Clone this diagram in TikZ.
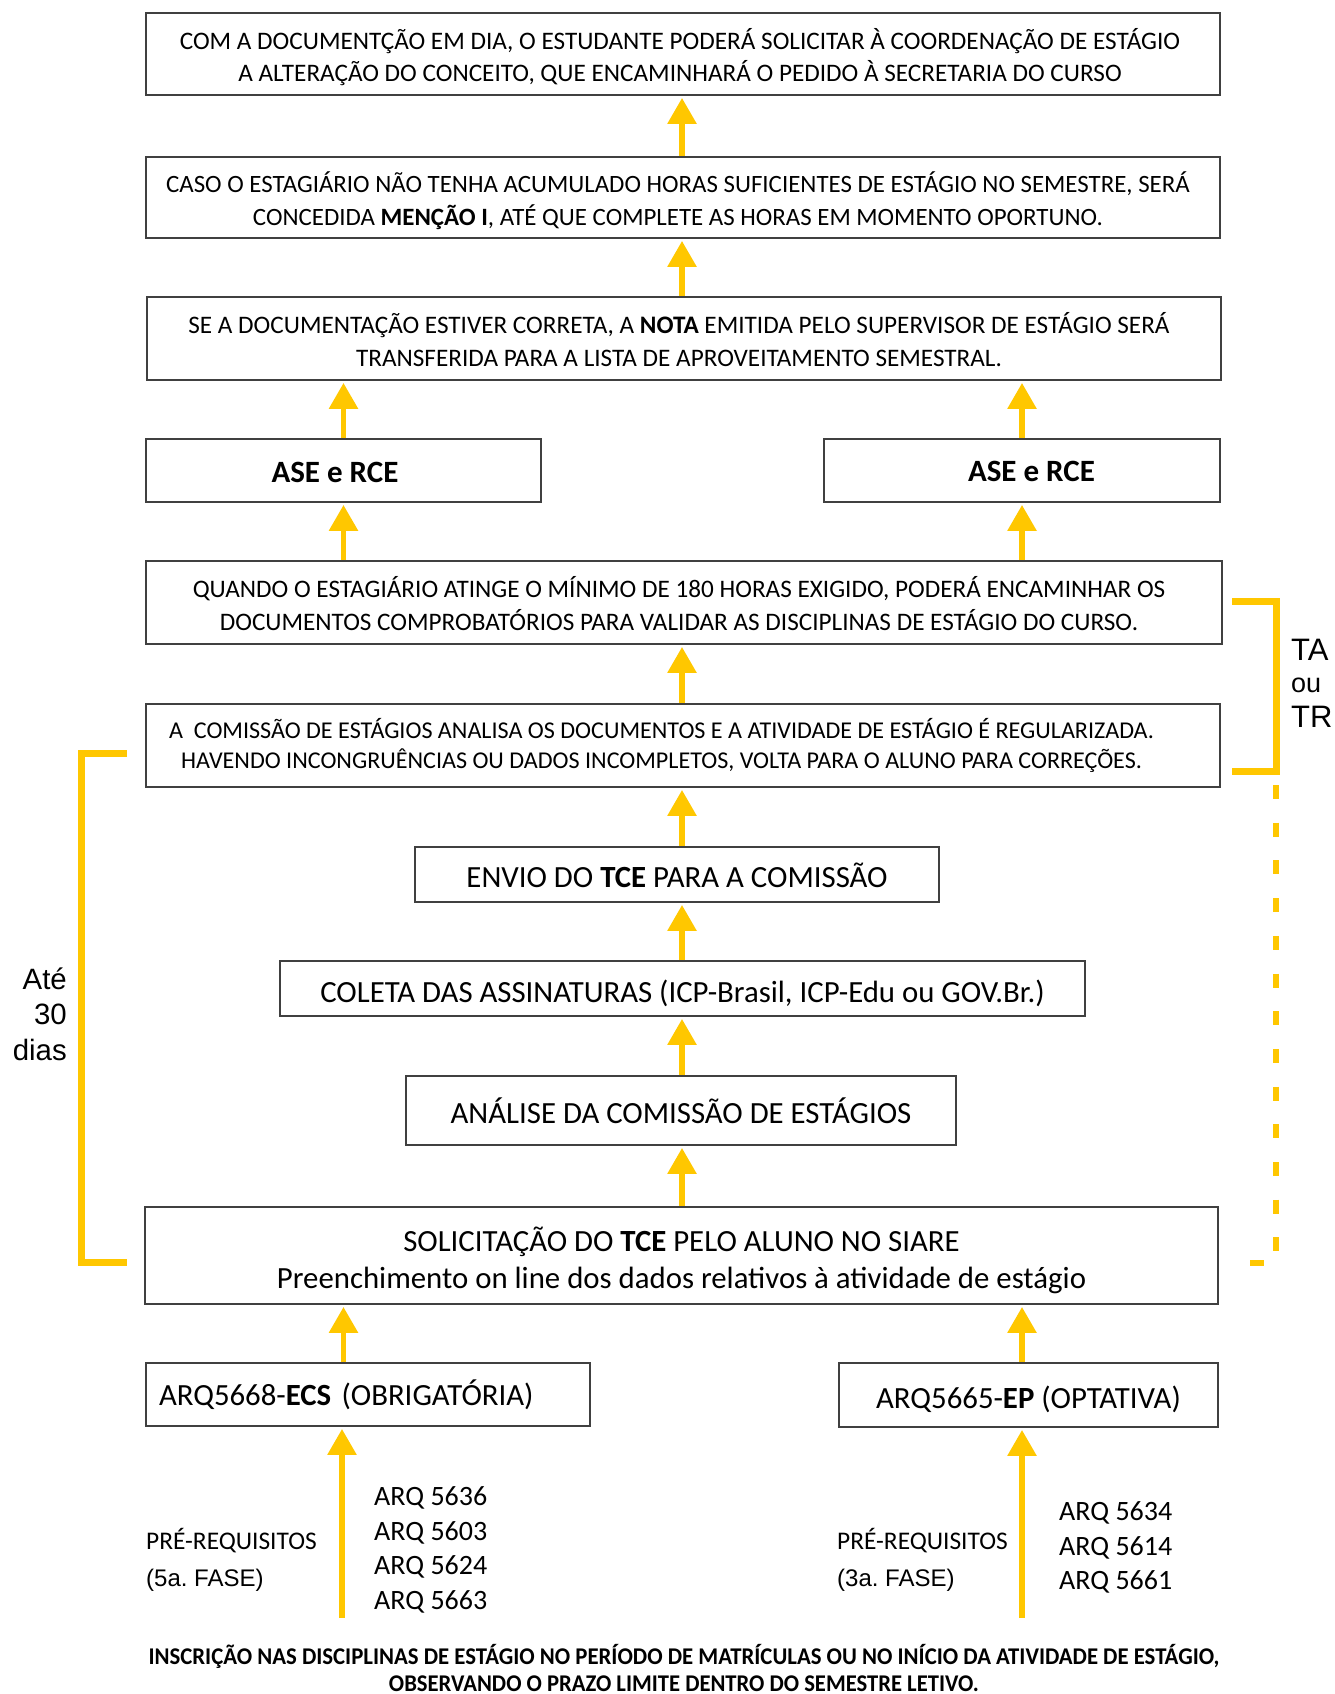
\documentclass[tikz,border=0pt]{standalone}
\usepackage{fontspec}
\setmainfont{Carlito}
\newfontfamily\arial{Liberation Sans}
\usetikzlibrary{arrows.meta}
\definecolor{amarelo}{RGB}{255,199,0}

\begin{document}
\begin{tikzpicture}[x=1pt,y=-1pt,
    caixa/.style={draw=black!75, line width=1.8pt, align=center, inner sep=0pt},
    seta/.style={draw=amarelo, line width=5.7pt, -{Triangle[length=26pt,width=28pt]}, shorten >=2pt},
    chave/.style={draw=amarelo, line width=7pt},
    txtp/.style={font=\fontsize{25.2}{32.4}\selectfont, text height=55pt, text depth=0pt},
    txtm/.style={font=\fontsize{30.8}{37}\selectfont, text height=26.5pt, text depth=0pt},
    solto/.style={inner sep=0pt}]
    % Define the page area
    \useasboundingbox (0,0) rectangle (1334,1694);
    \coordinate (eixo) at (682,0);

    % Boxes of the flow, from top to bottom
    \node[caixa, txtp, minimum width=1074pt, minimum height=82pt] (doc) at (683,54)
        {COM A DOCUMENTÇÃO EM DIA, O ESTUDANTE PODERÁ SOLICITAR À COORDENAÇÃO DE ESTÁGIO\hspace*{6pt}\\
         A ALTERAÇÃO DO CONCEITO, QUE ENCAMINHARÁ O PEDIDO À SECRETARIA DO CURSO\hspace*{6pt}};
    \node[caixa, txtp, font=\fontsize{24.9}{32.4}\selectfont, minimum width=1074pt, minimum height=81pt] (caso) at (683,197.5)
        {CASO O ESTAGIÁRIO NÃO TENHA ACUMULADO HORAS SUFICIENTES DE ESTÁGIO NO SEMESTRE, SERÁ\hspace*{10pt}\\
         CONCEDIDA \textbf{MENÇÃO I}, ATÉ QUE COMPLETE AS HORAS EM MOMENTO OPORTUNO.\hspace*{10pt}};
    \node[caixa, txtp, minimum width=1074pt, minimum height=83pt] (nota) at (684,338.5)
        {SE A DOCUMENTAÇÃO ESTIVER CORRETA, A \textbf{NOTA} EMITIDA PELO SUPERVISOR DE ESTÁGIO SERÁ\hspace*{10pt}\\
         TRANSFERIDA PARA A LISTA DE APROVEITAMENTO SEMESTRAL.\hspace*{10pt}};
    \node[caixa, font=\bfseries\fontsize{31}{37}\selectfont, text height=23pt, text depth=0pt,
        minimum width=395pt, minimum height=63pt] (aseL) at (343.5,470.5) {ASE e RCE\hspace*{17pt}};
    \node[caixa, font=\bfseries\fontsize{31}{37}\selectfont, text height=21pt, text depth=0pt,
        minimum width=396pt, minimum height=63pt] (aseR) at (1022,470.5) {\hspace*{19pt}ASE e RCE};
    \node[caixa, font=\fontsize{25.2}{33.5}\selectfont, text height=56.2pt, text depth=0pt,
        minimum width=1076pt, minimum height=83pt] (quando) at (684,602.5)
        {QUANDO O ESTAGIÁRIO ATINGE O MÍNIMO DE 180 HORAS EXIGIDO, PODERÁ ENCAMINHAR OS\hspace*{10pt}\\
         DOCUMENTOS COMPROBATÓRIOS PARA VALIDAR AS DISCIPLINAS DE ESTÁGIO DO CURSO.\hspace*{10pt}};
    \node[caixa, font=\fontsize{24.1}{30}\selectfont, text height=45.5pt, text depth=0pt,
        minimum width=1074pt, minimum height=83pt] (comissao) at (683,745.5)
        {A\ \ COMISSÃO DE ESTÁGIOS ANALISA OS DOCUMENTOS E A ATIVIDADE DE ESTÁGIO É REGULARIZADA.\hspace*{43pt}\\
         HAVENDO INCONGRUÊNCIAS OU DADOS INCOMPLETOS, VOLTA PARA O ALUNO PARA CORREÇÕES.\hspace*{43pt}};
    \node[caixa, txtm, minimum width=524pt, minimum height=55pt] (envio) at (677,874.5) {ENVIO DO \textbf{TCE} PARA A COMISSÃO};
    \node[caixa, txtm, text height=28.5pt, minimum width=805pt, minimum height=55pt] (coleta) at (682.5,988.5) {COLETA DAS ASSINATURAS (ICP-Brasil, ICP-Edu ou GOV.Br.)};
    \node[caixa, txtm, minimum width=550pt, minimum height=69pt] (analise) at (681,1110.5) {ANÁLISE DA COMISSÃO DE ESTÁGIOS};
    \node[caixa, txtm, text height=65.4pt, minimum width=1073pt, minimum height=97pt] (solic) at (681.5,1255.5)
        {SOLICITAÇÃO DO \textbf{TCE} PELO ALUNO NO SIARE\\
         Preenchimento on line dos dados relativos à atividade de estágio};
    \node[caixa, txtm, text height=22pt, align=left, text width=418pt, inner xsep=13pt, minimum height=63pt] (ecs) at (368,1394.5) {ARQ5668-\textbf{ECS} (OBRIGATÓRIA)};
    \node[caixa, txtm, minimum width=379pt, minimum height=64pt] (ep) at (1028.5,1395) {ARQ5665-\textbf{EP} (OPTATIVA)};

    % Arrows
    \draw[seta] (caso.north -| eixo) -- (doc.south -| eixo);
    \draw[seta] (nota.north -| eixo) -- (caso.south -| eixo);
    \draw[seta] (aseL.north) -- (nota.south -| aseL);
    \draw[seta] (aseR.north) -- (nota.south -| aseR);
    \draw[seta] (quando.north -| aseL) -- (aseL.south);
    \draw[seta] (quando.north -| aseR) -- (aseR.south);
    \draw[seta] (comissao.north -| eixo) -- (quando.south -| eixo);
    \draw[seta] (envio.north -| eixo) -- (comissao.south -| eixo);
    \draw[seta] (coleta.north -| eixo) -- (envio.south -| eixo);
    \draw[seta] (analise.north -| eixo) -- (coleta.south -| eixo);
    \draw[seta] (solic.north -| eixo) -- (analise.south -| eixo);
    \draw[seta] (ecs.north -| aseL) -- (solic.south -| aseL);
    \draw[seta] (ep.north -| aseR) -- (solic.south -| aseR);
    \coordinate (baseL) at (342,1618);
    \coordinate (baseR) at (1022,1618);
    \draw[seta] (baseL) -- (ecs.south -| baseL);
    \draw[seta] (baseR) -- (ep.south -| baseR);

    % Pre-requisites
    \node[solto, anchor=base west, font=\fontsize{25.4}{30}\selectfont] (preL) at (146,1549) {PRÉ-REQUISITOS};
    \node[solto, anchor=base west, font=\arial\fontsize{24}{30}\selectfont] (faseL) at (146,1586) {(5a.\ FASE)};
    \node[solto, anchor=north west, align=left, font=\fontsize{28}{34.6}\selectfont] (arqL) at (374,1486.5) {ARQ 5636\\ARQ 5603\\ARQ 5624\\ARQ 5663};
    \node[solto, anchor=base west, font=\fontsize{25.4}{30}\selectfont] (preR) at (837,1549) {PRÉ-REQUISITOS};
    \node[solto, anchor=base west, font=\arial\fontsize{24}{30}\selectfont] (faseR) at (837,1586) {(3a.\ FASE)};
    \node[solto, anchor=north west, align=left, font=\fontsize{28}{34.6}\selectfont] (arqR) at (1059,1501.5) {ARQ 5634\\ARQ 5614\\ARQ 5661};

    % Bottom note
    \node[align=center, font=\bfseries\fontsize{24}{27}\selectfont] (inscricao) at (684,1668)
        {\resizebox{1071pt}{\height}{INSCRIÇÃO NAS DISCIPLINAS DE ESTÁGIO NO PERÍODO DE MATRÍCULAS OU NO INÍCIO DA ATIVIDADE DE ESTÁGIO,}\\
         \resizebox{590pt}{\height}{OBSERVANDO O PRAZO LIMITE DENTRO DO SEMESTRE LETIVO.}};

    % Brackets
    \draw[chave] (127,753) -- (81,753) -- (81,1262) -- (127,1262);
    \node[solto, anchor=east, align=right, font=\arial\fontsize{29.4}{35.5}\selectfont] (prazo) at (67,1014) {Até\\30\\dias};
    \draw[chave] (1232,601) -- (1276,601) -- (1276,771) -- (1232,771);
    \draw[chave, line width=6pt, dash pattern=on 14pt off 23.7pt] (1276,785) -- (1276,1263) -- (1250,1263);
    \node[solto, anchor=west, font=\arial\fontsize{31}{31}\selectfont] (ta) at (1291,650) {TA};
    \node[solto, anchor=west, font=\arial\fontsize{27}{27}\selectfont] (ou) at (1291,685) {ou};
    \node[solto, anchor=west, font=\arial\fontsize{31}{31}\selectfont] (tr) at (1291,717) {TR};
\end{tikzpicture}
\end{document}
